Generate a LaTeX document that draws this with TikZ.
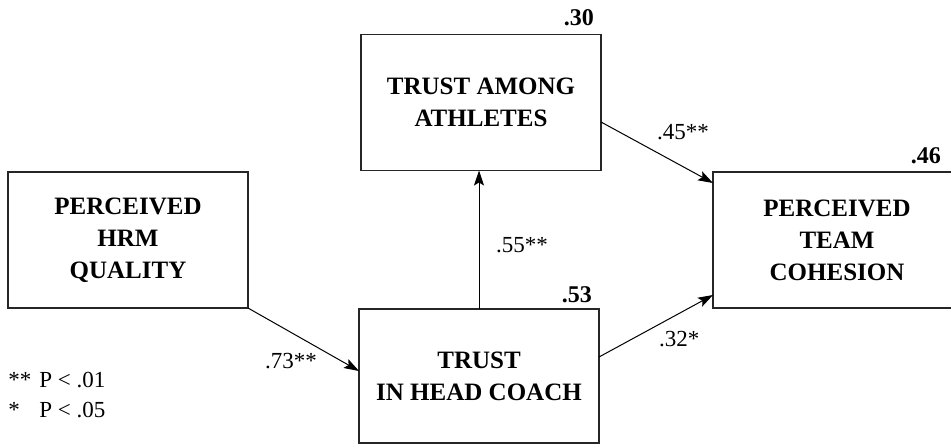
\documentclass[tikz,border=0pt]{standalone}
\usepackage{fontspec}
\setmainfont{Liberation Serif}
\usetikzlibrary{arrows.meta}
\begin{document}
\begin{tikzpicture}[x=0.5pt,y=0.5pt,
		var/.style={draw=black!85, line width=0.7pt, minimum width=120pt, minimum height=68pt, inner sep=0pt, outer sep=0pt, align=center, font=\fontsize{12.5}{16}\selectfont\bfseries},
		path/.style={line width=0.5pt, -{Stealth[length=7.5pt,width=5pt,inset=1.5pt]}},
		coef/.style={anchor=base west, font=\fontsize{11.5}{14}\selectfont},
		rsq/.style={anchor=base east, font=\fontsize{12}{14}\selectfont\bfseries}]
	\useasboundingbox (0,0) rectangle (951,447);
	\node[var] (hrm) at (128,207) {PERCEIVED\\HRM\\QUALITY};
	\node[var, minimum height=67pt] (coach) at (479,71) {TRUST\\IN HEAD COACH};
	\node[var] (athletes) at (481,344.5) {TRUST AMONG\\ATHLETES};
	\node[var, minimum width=124pt] (cohesion) at (837,207) {PERCEIVED\\TEAM\\COHESION};
	\draw[path] (hrm.south east) -- ([yshift=2.5pt]coach.west);
	\draw[path] (coach.north) -- (coach.north |- athletes.south);
	\draw[path] ([yshift=-9.75pt]athletes.east) -- ([yshift=-5.5pt]cohesion.north west);
	\draw[path] ([yshift=9.5pt]coach.east) -- ([yshift=6.5pt]cohesion.south west);
	\node[coef] (b73) at (258,79) {.73**};
	\node[coef] (b55) at (489,195) {.55**};
	\node[coef] (b45) at (650,308) {.45**};
	\node[coef] (b32) at (652,101) {.32*};
	\node[rsq] (r30) at ([yshift=4.5pt]athletes.north east) {.30};
	\node[rsq] (r53) at ([yshift=3.5pt]coach.north east) {.53};
	\node[rsq] (r46) at (948,284) {.46};
	\node[anchor=base west, inner sep=0pt, font=\fontsize{11.5}{15}\selectfont] (legend) at (8,30)
		{\begin{tabular}[b]{@{}l@{\hspace{4pt}}l@{}}** & P < .01\\ {*} & P < .05\end{tabular}};
\end{tikzpicture}
\end{document}
